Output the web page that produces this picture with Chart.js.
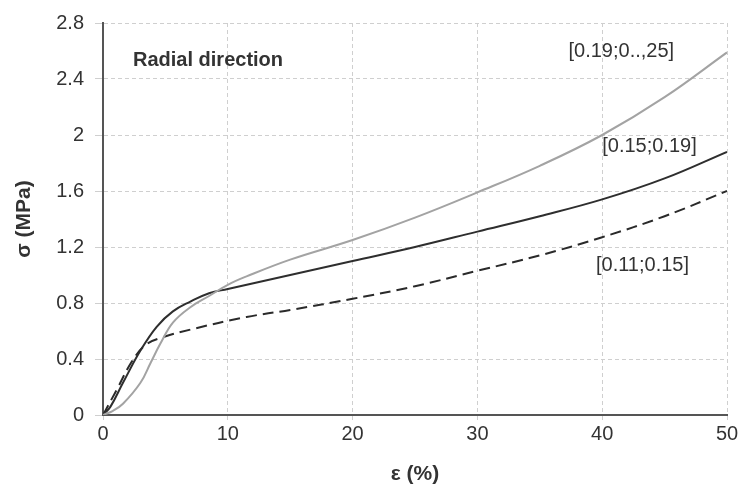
<!DOCTYPE html>
<html>
<head>
<meta charset="utf-8">
<script src="https://cdn.jsdelivr.net/npm/chart.js@4/dist/chart.umd.min.js"></script>
<style>
  html, body { margin: 0; padding: 0; background: #fff; }
  #wrap { width: 742px; height: 490px; }
</style>
</head>
<body>
<div id="wrap"><canvas id="curves"></canvas></div>
<script>
// strain (%) and stress (MPa) for each density range
var strainHigh = [0, 0.8, 1.6, 3, 3.8, 4.6, 5.6, 7, 8.5, 10, 11.5, 15, 20, 25, 30, 35, 40, 45, 50];
var stressHigh = [0, 0.03, 0.08, 0.23, 0.37, 0.51, 0.66, 0.77, 0.85, 0.93, 0.99, 1.11, 1.25, 1.41, 1.59, 1.78, 2.0, 2.27, 2.59];

var strainMid = [0, 0.6, 1.6, 3, 4.3, 5.6, 7, 8.5, 10, 15, 20, 25, 30, 35, 40, 45, 50];
var stressMid = [0, 0.06, 0.23, 0.46, 0.63, 0.74, 0.81, 0.87, 0.9, 1.0, 1.1, 1.2, 1.31, 1.42, 1.54, 1.69, 1.88];

var strainLow = [0, 1.1, 2.3, 3.4, 4.6, 7, 11.5, 15, 20, 25, 30, 35, 40, 45, 50];
var stressLow = [0, 0.18, 0.38, 0.5, 0.55, 0.61, 0.7, 0.75, 0.83, 0.92, 1.03, 1.14, 1.27, 1.42, 1.6];

var rangeLabels = ['[0.19;0..,25]', '[0.15;0.19]', '[0.11;0.15]'];
// where each range label sits, in axis units
var labelX = [37.3, 40, 39.5];
var labelY = [2.6, 1.92, 1.07];

var xTicks = [0, 10, 20, 30, 40, 50];
var yMax = 2.8, yStep = 0.4;

function pts(xs, ys) {
  var out = [];
  for (var i = 0; i < xs.length; i++) out.push({x: xs[i], y: ys[i]});
  return out;
}

var textColor = '#333';
var fontFam = '"Liberation Sans", Arial, sans-serif';

var rangeText = {
  id: 'rangeText',
  afterDatasetsDraw: function(chart) {
    var c = chart.ctx, xs = chart.scales.x, ys = chart.scales.y;
    c.save();
    c.fillStyle = textColor;
    c.textBaseline = 'middle';
    c.textAlign = 'left';
    c.font = 'bold 20px ' + fontFam;
    c.fillText('Radial direction', 133, 60);
    c.font = '20px ' + fontFam;
    for (var i = 0; i < rangeLabels.length; i++) {
      c.fillText(rangeLabels[i], xs.getPixelForValue(labelX[i]), ys.getPixelForValue(labelY[i]));
    }
    c.restore();
  }
};

var line = function(data, color, dash) {
  return {
    data: data,
    showLine: true,
    borderColor: color,
    borderWidth: 2,
    borderDash: dash || [],
    pointRadius: 0,
    tension: 0.4,
    fill: false
  };
};

new Chart(document.getElementById('curves'), {
  type: 'scatter',
  data: {
    datasets: [
      line(pts(strainHigh, stressHigh), '#a3a3a3'),
      line(pts(strainMid, stressMid), '#2e2e2e'),
      line(pts(strainLow, stressLow), '#2a2a2a', [11, 6])
    ]
  },
  options: {
    responsive: true,
    maintainAspectRatio: false,
    animation: false,
    layout: { padding: { top: 19, right: 15, left: 12, bottom: 0 } },
    plugins: { legend: { display: false }, tooltip: { enabled: false } },
    scales: {
      x: {
        type: 'linear',
        min: 0, max: 50,
        afterBuildTicks: function(s) { s.ticks = xTicks.map(function(v) { return {value: v}; }); },
        afterFit: function(s) { s.height = 75; },
        ticks: { color: textColor, font: { family: fontFam, size: 20 }, padding: 2 },
        grid: { color: '#cfcfcf', lineWidth: 1, tickLength: 5 },
        border: { color: '#555', width: 2, dash: [4, 3] },
        title: {
          display: true, text: 'ε (%)', color: textColor,
          font: { family: fontFam, size: 21, weight: 'bold' },
          padding: { top: 4, bottom: 3 }
        }
      },
      y: {
        min: 0, max: yMax,
        ticks: {
          stepSize: yStep, color: textColor, font: { family: fontFam, size: 20 }, padding: 11,
          callback: function(v) { return String(Math.round(v * 10) / 10); }
        },
        afterFit: function(s) { s.width = 91; },
        grid: { color: '#cfcfcf', lineWidth: 1, tickLength: 8 },
        border: { color: '#555', width: 2, dash: [4, 3] },
        title: {
          display: true, text: 'σ (MPa)', color: textColor,
          font: { family: fontFam, size: 21, weight: 'bold' },
          padding: { top: 0, bottom: 0 }
        }
      }
    }
  },
  plugins: [rangeText]
});
</script>
</body>
</html>
